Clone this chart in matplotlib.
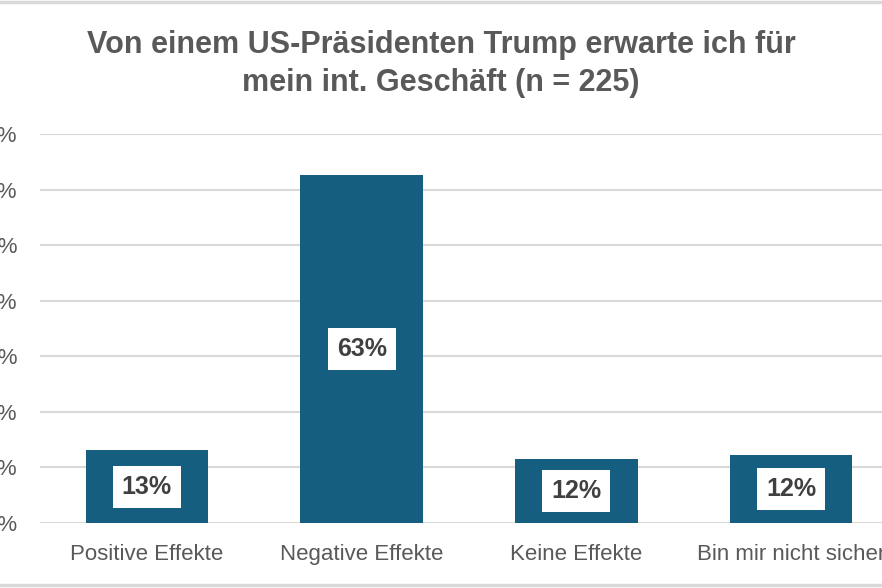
import matplotlib.pyplot as plt
from matplotlib.lines import Line2D

categories = ["Positive Effekte", "Negative Effekte", "Keine Effekte", "Bin mir nicht sicher"]
values = [0.131, 0.626, 0.116, 0.122]
yticks = [0, 0.1, 0.2, 0.3, 0.4, 0.5, 0.6, 0.7]

W, H = 882, 588
fig = plt.figure(figsize=(W / 100, H / 100), dpi=100)
plt.rcParams['font.family'] = ['Liberation Sans', 'DejaVu Sans']

# axes runs past the right edge, like the cropped screenshot
left, right, bottom, top = 39.5, 898.5, 523, 134
ax = fig.add_axes([left / W, 1 - bottom / H, (right - left) / W, (bottom - top) / H])

x = range(len(categories))
bars = ax.bar(x, values, width=0.57, color="#165E80", zorder=3)

for xi, v in zip(x, values):
    ax.text(xi, v / 2, f"{round(v * 100):.0f}%", ha="center", va="center",
            fontsize=18, fontweight="bold", color="#404040", zorder=4,
            bbox=dict(facecolor="white", edgecolor="none", pad=6.5))

ax.set_xlim(-0.5, len(categories) - 0.5)
ax.set_ylim(0, 0.7)
ax.set_yticks(yticks)
ax.set_yticklabels([f"{int(t * 100)}%" for t in yticks])
ax.set_xticks(list(x))
ax.set_xticklabels(categories)
ax.tick_params(axis="y", length=0, pad=16, labelsize=16, labelcolor="#595959")
ax.tick_params(axis="x", length=0, pad=15, labelsize=16, labelcolor="#595959")
ax.grid(axis="y", color="#d9d9d9", linewidth=1.5, zorder=0)
for s in ax.spines.values():
    s.set_visible(False)

fig.text(441 / W, 1 - 64 / H, "Von einem US-Präsidenten Trump erwarte ich für\nmein int. Geschäft (n = 225)",
         ha="center", va="center", fontsize=22, fontweight="bold", color="#595959",
         linespacing=1.38)

# thin frame lines at top and bottom of the screenshot
for yy in (2, 585):
    fig.add_artist(Line2D([0, 1], [1 - yy / H, 1 - yy / H], transform=fig.transFigure,
                          color="#d9d9d9", linewidth=2.5))

fig.savefig("out.png", dpi=100)
